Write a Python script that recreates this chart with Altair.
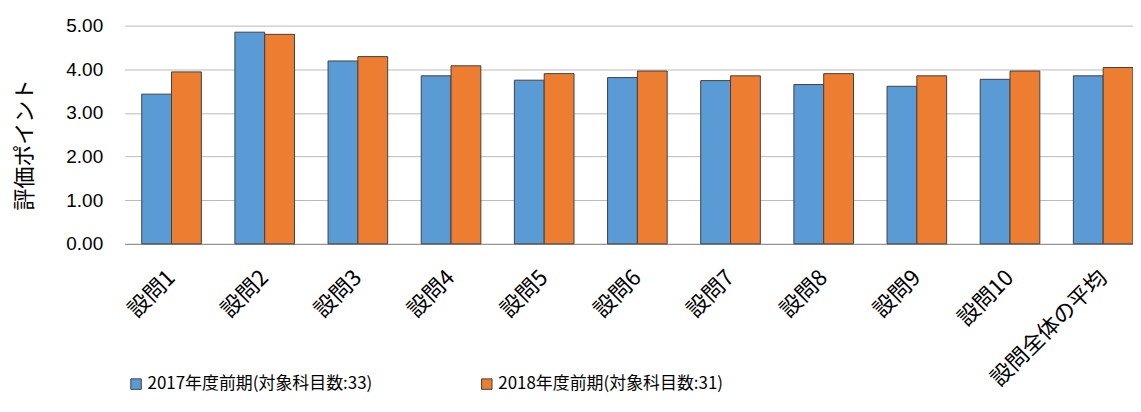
import altair as alt
import pandas as pd

categories = ["設問1", "設問2", "設問3", "設問4", "設問5", "設問6", "設問7", "設問8", "設問9", "設問10", "設問全体の平均"]
series = ["2017年度前期(対象科目数:33)", "2018年度前期(対象科目数:31)"]
values_2017 = [3.43, 4.85, 4.19, 3.85, 3.75, 3.81, 3.74, 3.65, 3.61, 3.77, 3.85]
values_2018 = [3.94, 4.80, 4.29, 4.08, 3.90, 3.96, 3.85, 3.90, 3.85, 3.96, 4.04]
colors = ["#5B9BD5", "#ED7D31"]
y_ticks = [0, 1, 2, 3, 4, 5]

rows = []
for c, a, b in zip(categories, values_2017, values_2018):
    rows.append({"q": c, "series": series[0], "v": a})
    rows.append({"q": c, "series": series[1], "v": b})
df = pd.DataFrame(rows)

JP = "Noto Sans CJK JP"

chart = alt.Chart(df).mark_bar(stroke="#404040", strokeWidth=1).encode(
    x=alt.X("q:N", sort=categories, title=None,
            scale=alt.Scale(paddingInner=0.36, paddingOuter=0.092, align=1),
            axis=alt.Axis(labelAngle=-45, labelAlign="right", labelBaseline="middle",
                          labelFont=JP, labelFontSize=22, labelColor="#000000",
                          labelPadding=30, labelOverlap=False, labelLimit=400,
                          ticks=False, tickSize=0, domain=True, domainColor="#8c8c8c",
                          domainWidth=1, grid=False)),
    xOffset=alt.XOffset("series:N", sort=series, scale=alt.Scale(paddingInner=0, paddingOuter=0)),
    y=alt.Y("v:Q", scale=alt.Scale(domain=[0, 5], nice=False),
            axis=alt.Axis(values=y_ticks, format=".2f", title="評価ポイント",
                          labelFont="Liberation Sans", labelFontSize=19, labelColor="#000000",
                          labelPadding=22, ticks=False, tickSize=0, domain=False,
                          grid=True, gridColor="#BBBBBB", gridWidth=1,
                          titleFont=JP, titleFontSize=22, titleFontWeight="normal",
                          titleColor="#000000", titleX=-100, titleY=119,
                          titleAlign="center", titleBaseline="middle")),
    color=alt.Color("series:N", sort=series,
                    scale=alt.Scale(domain=series, range=colors),
                    legend=alt.Legend(title=None, orient="none", legendX=3, legendY=351,
                                      direction="horizontal", columns=2, columnPadding=106,
                                      symbolType="square", symbolSize=110,
                                      symbolStrokeColor="#404040", symbolStrokeWidth=1,
                                      labelFont=JP, labelFontSize=17, labelColor="#000000",
                                      labelLimit=500, labelOffset=3, padding=0)),
).properties(
    width=1012, height=219,
    autosize=alt.AutoSizeParams(type="none"),
    padding={"left": 117, "top": 17, "right": 0, "bottom": 153},
).configure_view(strokeWidth=0)

chart.save("out.html", embed_options={"renderer": "svg", "actions": False})
